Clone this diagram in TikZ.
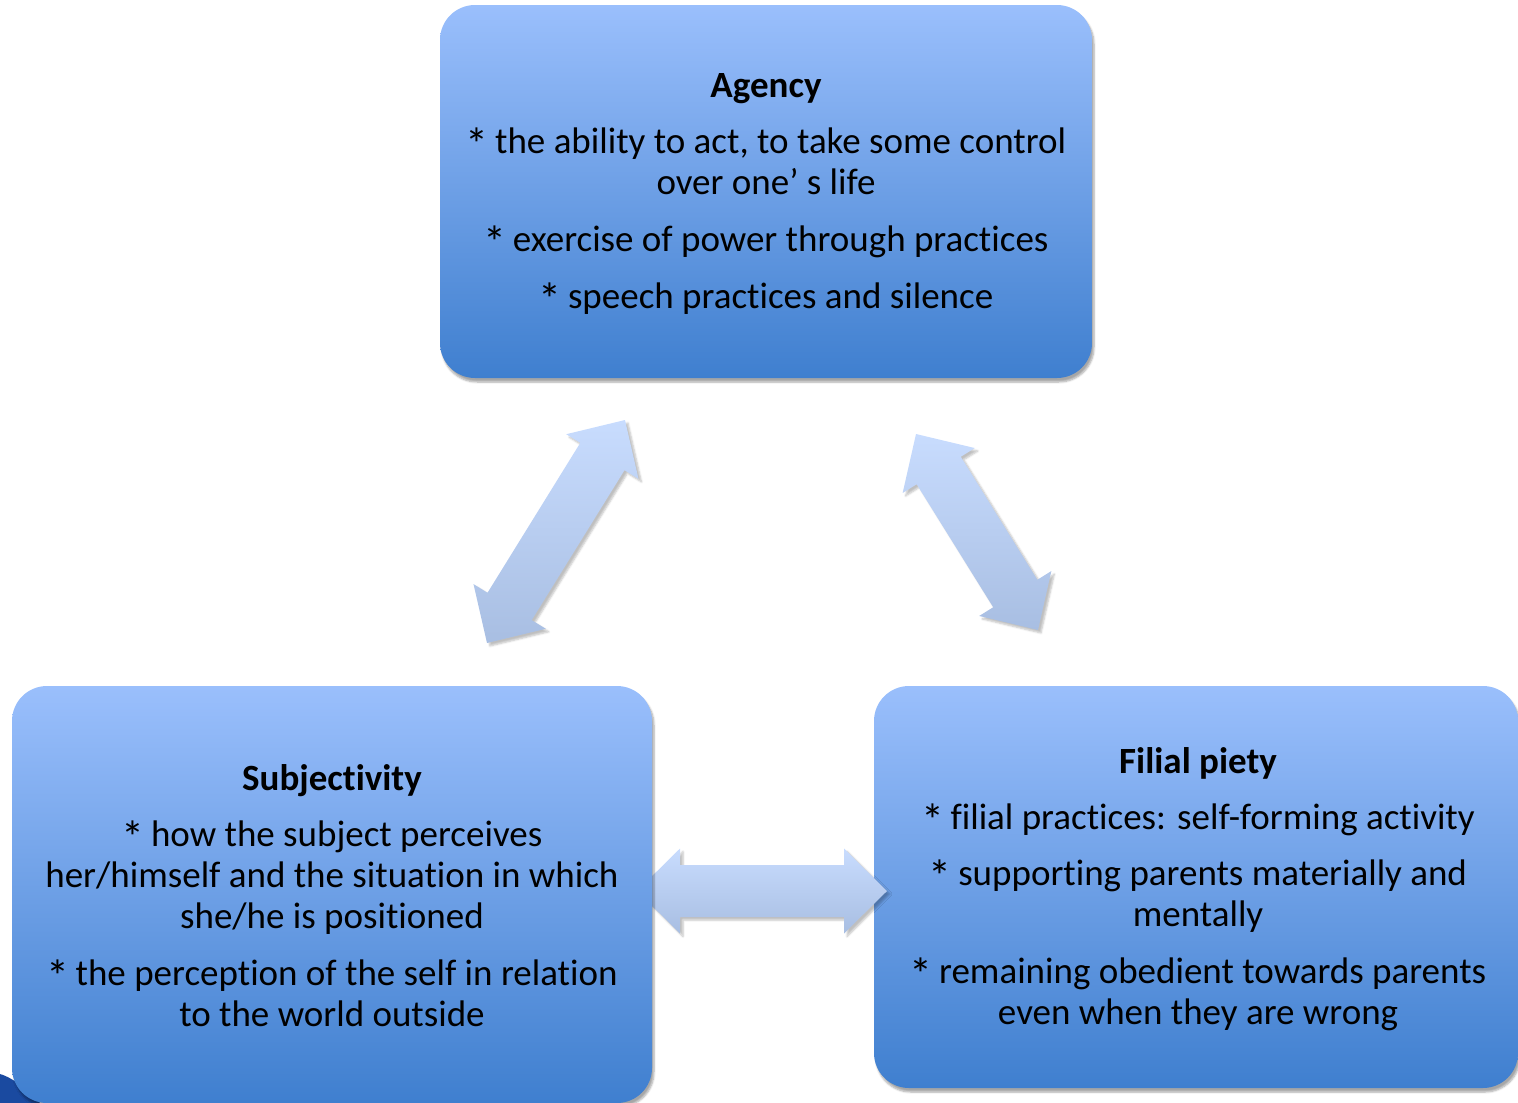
\documentclass[tikz,border=0pt]{standalone}
\usepackage{fontspec}
\setmainfont{Carlito}[Ligatures=NoCommon]
\usetikzlibrary{calc,shadows.blur}
\definecolor{boxtop}{HTML}{9ABFFC}
\definecolor{boxbot}{HTML}{3F7FCF}
\definecolor{arrtop}{HTML}{C8DCFE}
\definecolor{arrbot}{HTML}{A8BEE2}
\definecolor{deco}{HTML}{1A4AA0}
\newcommand{\bul}{\raisebox{-7pt}{\fontsize{46}{41}\selectfont *}\kern-2pt}
\tikzset{
  infobox/.style={rectangle, rounded corners=35pt, top color=boxtop, bottom color=boxbot,
    inner sep=0pt,
    blur shadow={shadow xshift=2pt, shadow yshift=-4pt, shadow blur steps=6, shadow opacity=35}},
  boxtext/.style={align=center, inner sep=0pt, font=\fontsize{37}{41}\selectfont},
  blockarrow/.style={top color=arrtop, bottom color=arrbot,
    blur shadow={shadow xshift=3pt, shadow yshift=-3pt, shadow blur steps=5, shadow opacity=25}}
}
\newcommand{\dblarrow}[2]{%
  \path[blockarrow] (#1)
    -- ($(#1)!43pt!(#2)!42.5pt!90:(#2)$)
    -- ($(#1)!43pt!(#2)!26pt!90:(#2)$)
    -- ($(#2)!43pt!(#1)!26pt!-90:(#1)$)
    -- ($(#2)!43pt!(#1)!42.5pt!-90:(#1)$)
    -- (#2)
    -- ($(#2)!43pt!(#1)!42.5pt!90:(#1)$)
    -- ($(#2)!43pt!(#1)!26pt!90:(#1)$)
    -- ($(#1)!43pt!(#2)!26pt!-90:(#2)$)
    -- ($(#1)!43pt!(#2)!42.5pt!-90:(#2)$)
    -- cycle;}
\begin{document}
\begin{tikzpicture}[x=1pt,y=-1pt]
\useasboundingbox (0,0) rectangle (1518,1103);
\clip (0,0) rectangle (1518,1103);
% decoration at bottom-left
\fill[deco] (0,1074) .. controls (14,1078) and (30,1092) .. (40,1103) -- (0,1103) -- cycle;
% top box
\node[infobox, minimum width=652pt, minimum height=373pt] (agency) at (766,191.5) {};
\node[boxtext] (agencytext) at ($(agency.center)+(0,3)$)
  {{\bfseries Agency}\\[15pt]
   \bul{} the ability to act, to take some control\\
   over one’ s life\\[16pt]
   \bul{} exercise of power through practices\\[16pt]
   \bul{} speech practices and silence};
% right box
\node[infobox, minimum width=644pt, minimum height=402pt] (filial) at (1196,887) {};
\node[boxtext] (filialtext) at ($(filial.center)+(2,2)$)
  {{\bfseries Filial piety}\\[15pt]
   \bul{} filial practices: self-forming activity\\[15pt]
   \bul{} supporting parents materially and\\
   mentally\\[16pt]
   \bul{} remaining obedient towards parents\\
   even when they are wrong};
% arrows
\coordinate (la1) at (487,643);
\coordinate (la2) at (625,420);
\coordinate (ra1) at (916,434);
\coordinate (ra2) at (1038,630);
\coordinate (ha1) at (637,891);
\coordinate (ha2) at (887,891);
\dblarrow{la1}{la2}
\dblarrow{ra1}{ra2}
\dblarrow{ha1}{ha2}
% left box
\node[infobox, minimum width=640pt, minimum height=417pt] (subj) at (332,894.5) {};
\node[boxtext] (subjtext) at ($(subj.center)+(0,1)$)
  {{\bfseries Subjectivity}\\[15pt]
   \bul{} how the subject perceives\\
   her/himself and the situation in which\\
   she/he is positioned\\[16pt]
   \bul{} the perception of the self in relation\\
   to the world outside};
\end{tikzpicture}
\end{document}
